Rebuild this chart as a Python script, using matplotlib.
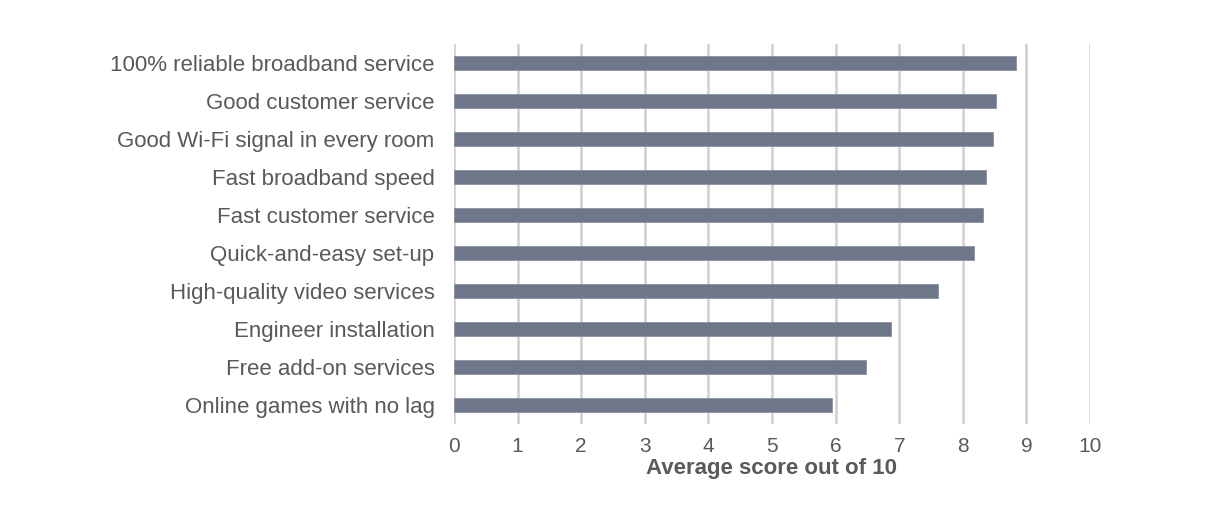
import matplotlib.pyplot as plt

# Data
categories = [
    "100% reliable broadband service",
    "Good customer service",
    "Good Wi-Fi signal in every room",
    "Fast broadband speed",
    "Fast customer service",
    "Quick-and-easy set-up",
    "High-quality video services",
    "Engineer installation",
    "Free add-on services",
    "Online games with no lag",
]
scores = [8.84, 8.52, 8.48, 8.37, 8.32, 8.18, 7.61, 6.87, 6.48, 5.94]
xticks = list(range(0, 11))

plt.rcParams['font.family'] = ['Liberation Sans', 'DejaVu Sans']
text_col = '#595959'

fig = plt.figure(figsize=(12.22, 5.31), dpi=100)
ax = fig.add_axes([0.3715, 0.2015, 0.5205, 0.7155])

ypos = list(range(len(categories)))
ax.barh(ypos, scores, height=0.37, color='#6e7689', edgecolor='#8a91a1',
        linewidth=0.6, zorder=3)

ax.set_xlim(0, 10)
ax.set_ylim(len(categories) - 0.5, -0.5)
ax.set_xticks(xticks)
ax.set_yticks(ypos)
ax.set_yticklabels(categories)

# vertical gridlines only
ax.grid(axis='x', color='#cfcfcf', linewidth=1.8, zorder=0)
ax.grid(axis='y', visible=False)
for s in ax.spines.values():
    s.set_visible(False)

ax.tick_params(axis='both', length=0, labelcolor=text_col)
ax.tick_params(axis='y', pad=14, labelsize=16)
ax.tick_params(axis='x', pad=9, labelsize=15)

ax.set_xlabel('Average score out of 10', fontsize=16, fontweight='bold',
              color=text_col, labelpad=2)

fig.savefig('out.png', dpi=100)
